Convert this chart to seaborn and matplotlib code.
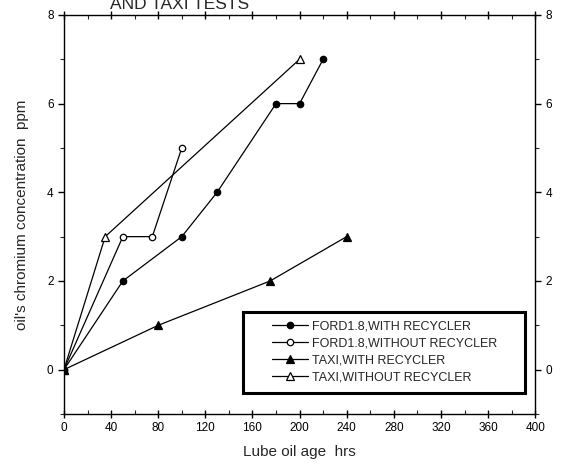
import matplotlib
matplotlib.use("Agg")
import matplotlib.pyplot as plt
from matplotlib.patches import Rectangle
from matplotlib.ticker import MultipleLocator
import pandas as pd
import seaborn as sns

# Lube oil age (hrs) and chromium concentration (ppm) per test run
ford_with_hrs = [0, 50, 100, 130, 180, 200, 220]
ford_with_ppm = [0, 2, 3, 4, 6, 6, 7]
ford_without_hrs = [0, 50, 75, 100]
ford_without_ppm = [0, 3, 3, 5]
taxi_with_hrs = [0, 80, 175, 240]
taxi_with_ppm = [0, 1, 2, 3]
taxi_without_hrs = [0, 35, 200]
taxi_without_ppm = [0, 3, 7]

series_labels = [
    "FORD1.8,WITH RECYCLER",
    "FORD1.8,WITHOUT RECYCLER",
    "TAXI,WITH RECYCLER",
    "TAXI,WITHOUT RECYCLER",
]
x_ticks = [0, 40, 80, 120, 160, 200, 240, 280, 320, 360, 400]
y_ticks = [0, 2, 4, 6, 8]

sns.set_theme(style="ticks")
plt.rcParams["font.family"] = ["Liberation Sans", "DejaVu Sans"]

fig = plt.figure(figsize=(5.61, 4.67), dpi=100)
ax = fig.add_axes([0.114, 0.1135, 0.840, 0.8545])

# (x, y, marker, face colour, marker size, z-order)
series = [
    (ford_with_hrs, ford_with_ppm, "o", "black", 4.6, 4),
    (ford_without_hrs, ford_without_ppm, "o", "white", 4.6, 3),
    (taxi_with_hrs, taxi_with_ppm, "^", "black", 5.2, 4),
    (taxi_without_hrs, taxi_without_ppm, "^", "white", 5.2, 3),
]

handles = []
for (xs, ys, mk, face, ms, z), label in zip(series, series_labels):
    df = pd.DataFrame({"hrs": xs, "ppm": ys})
    sns.lineplot(data=df, x="hrs", y="ppm", ax=ax, color="black",
                 linewidth=0.9, marker=mk, markersize=ms,
                 markerfacecolor=face, markeredgecolor="black",
                 markeredgewidth=0.9, sort=False, estimator=None,
                 legend=False, zorder=z)
    line = ax.lines[-1]
    line.set_label(label)
    handles.append(line)

ax.set_xlim(0, 400)
ax.set_ylim(-1, 8)
ax.set_xticks(x_ticks)
ax.set_yticks(y_ticks)
ax.xaxis.set_minor_locator(MultipleLocator(20))
ax.yaxis.set_minor_locator(MultipleLocator(1))

for s in ax.spines.values():
    s.set_visible(True)
    s.set_linewidth(1.0)
    s.set_color("black")

ax.tick_params(axis="x", which="major", direction="inout", length=6,
               width=1, labelsize=8.5, colors="black", top=True, pad=3)
ax.tick_params(axis="x", which="minor", direction="in", length=3,
               width=0.8, top=True)
ax.tick_params(axis="y", which="major", direction="out", length=4,
               width=1, labelsize=8.5, colors="black",
               right=True, labelright=True)
ax.tick_params(axis="y", which="minor", direction="out", length=3,
               width=0.8, right=True)

ax.set_xlabel("Lube oil age  hrs", fontsize=11, labelpad=8)
ax.set_ylabel("oil's chromium concentration  ppm", fontsize=11, labelpad=13)

fig.text(0.196, 0.990, "AND TAXI TESTS", fontsize=12.5, ha="left",
         va="center")

# Legend box with a heavy square border
box = (0.380, 0.053, 0.599, 0.203)
ax.add_patch(Rectangle(box[:2], box[2], box[3], transform=ax.transAxes,
                       facecolor="white", edgecolor="black", linewidth=2.2,
                       zorder=5))
leg = ax.legend(handles=handles, labels=series_labels, loc="center",
                bbox_to_anchor=box, fontsize=9, frameon=False,
                handlelength=2.9, handletextpad=0.3, labelspacing=0.4,
                markerscale=1.0, borderpad=0, borderaxespad=0)
leg.set_zorder(6)

fig.savefig("out.png", dpi=100, facecolor="white")
